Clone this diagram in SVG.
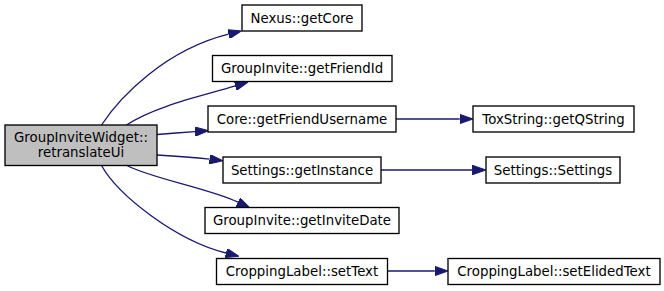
<svg xmlns="http://www.w3.org/2000/svg" width="664" height="291" viewBox="0 0 664 291">
  <style>
    .node rect { fill: #ffffff; stroke: #000000; stroke-width: 1.33; }
    .node.root rect { fill: #bfbfbf; }
    .node text { font-family: "DejaVu Sans", sans-serif; font-size: 13.33px; fill: #000000; text-anchor: middle; }
    .edge { fill: none; stroke: #191970; stroke-width: 1.33; marker-end: url(#arrow); }
  </style>
  <defs>
    <marker id="arrow" viewBox="0 0 10 7" markerUnits="userSpaceOnUse" markerWidth="13.3" markerHeight="9.3" refX="0" refY="3.5" orient="auto">
      <path d="M0,0 L10,3.5 L0,7 z" fill="#191970" stroke="#191970" stroke-width="0.8"/>
    </marker>
  </defs>

  <g id="connectors">
    <path class="edge" d="M101.5,125 C120,97 165,50 228.5,34.2"/>
    <path class="edge" d="M126.5,125 C155,106 201.8,96.2 235.3,85.9"/>
    <path class="edge" d="M157,134.5 C170,133.5 182,132.5 195,131.6"/>
    <path class="edge" d="M157,155 C175,156 195,157.5 209.6,159.2"/>
    <path class="edge" d="M127,165.5 C150,178 211,189 238,202.2"/>
    <path class="edge" d="M101.5,165.5 C118,195 175,240 226,253"/>
    <path class="edge" d="M396,119 L459.7,119"/>
    <path class="edge" d="M381,170 L472.4,170"/>
    <path class="edge" d="M387.5,271 L434.7,271"/>
  </g>

  <g id="retranslateUi" class="node root">
    <rect x="5" y="125" width="152" height="40.5"/>
    <text x="81" y="142">GroupInviteWidget::</text>
    <text x="81" y="156.5">retranslateUi</text>
  </g>
  <g id="getCore" class="node">
    <rect x="242" y="5" width="120" height="26"/>
    <text x="302" y="22.8">Nexus::getCore</text>
  </g>
  <g id="getFriendId" class="node">
    <rect x="212.5" y="55.5" width="179.5" height="26"/>
    <text x="302" y="73.3">GroupInvite::getFriendId</text>
  </g>
  <g id="getFriendUsername" class="node">
    <rect x="208" y="106" width="188" height="26"/>
    <text x="302" y="123.8">Core::getFriendUsername</text>
  </g>
  <g id="getInstance" class="node">
    <rect x="223" y="157" width="158" height="26"/>
    <text x="302" y="174.8">Settings::getInstance</text>
  </g>
  <g id="getInviteDate" class="node">
    <rect x="205" y="207.5" width="194" height="26"/>
    <text x="302" y="225.3">GroupInvite::getInviteDate</text>
  </g>
  <g id="setText" class="node">
    <rect x="216.5" y="258.5" width="171" height="26"/>
    <text x="302" y="276.3">CroppingLabel::setText</text>
  </g>
  <g id="getQString" class="node">
    <rect x="473" y="106" width="161" height="26"/>
    <text x="553.5" y="123.8">ToxString::getQString</text>
  </g>
  <g id="Settings" class="node">
    <rect x="486" y="157" width="134" height="26"/>
    <text x="553" y="174.8">Settings::Settings</text>
  </g>
  <g id="setElidedText" class="node">
    <rect x="448" y="258.5" width="212" height="26"/>
    <text x="554" y="276.3">CroppingLabel::setElidedText</text>
  </g>
</svg>
